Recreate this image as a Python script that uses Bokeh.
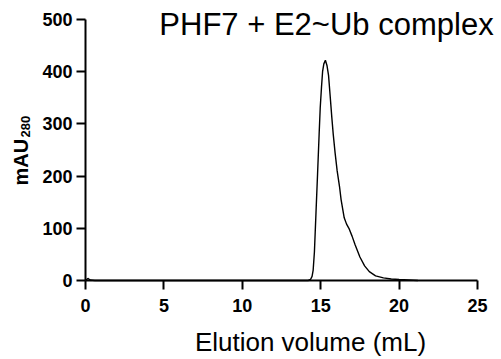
from bokeh.plotting import figure
from bokeh.models import Range1d, FixedTicker, Label
from bokeh.embed import file_html
from bokeh.resources import INLINE
import math

# Data
volume_ml = [0.0, 0.15, 0.3, 0.6, 14.2, 14.35, 14.45, 14.52, 14.6, 14.7, 14.8,
             14.9, 14.97, 15.05, 15.12, 15.2, 15.3, 15.4, 15.5, 15.6, 15.71,
             15.8, 15.92, 16.05, 16.2, 16.3, 16.5, 16.65, 16.8, 17.0, 17.2,
             17.5, 17.8, 18.1, 18.5, 19.0, 19.5, 20.0, 20.6, 21.2]
mau_280 = [0, 4, 1, 0, 0, 2, 8, 20, 55, 130, 204,
           280, 331, 370, 400, 415, 422, 412, 393, 355, 312,
           280, 244, 210, 180, 155, 120, 108, 100, 85, 68,
           45, 28, 17, 9, 5, 3, 2, 1, 0]
x_ticks = [0, 5, 10, 15, 20, 25]
y_ticks = [0, 100, 200, 300, 400, 500]

title_text = "PHF7 + E2~Ub complex"
x_label_text = "Elution volume (mL)"
y_label_main = "mAU"
y_label_sub = "280"

W, H = 501, 359
# pixel positions of the axes in the picture
AX_L, AX_R, AX_T, AX_B = 85, 477, 19, 280
X0, X1, Y0, Y1 = 0, 25, 0, 500
sx = (X1 - X0) / (AX_R - AX_L)
sy = (Y1 - Y0) / (AX_B - AX_T)

def px2x(px):
    return X0 + (px - AX_L) * sx

def py2y(py):
    return Y0 + (AX_B - py) * sy

p = figure(width=W, height=H, output_backend="svg", toolbar_location=None,
           x_range=Range1d(px2x(0), px2x(W)), y_range=Range1d(py2y(H), py2y(0)),
           min_border=0)
p.outline_line_color = None
p.grid.visible = False
p.background_fill_color = "white"
p.border_fill_color = "white"

for ax in (p.xaxis[0], p.yaxis[0]):
    ax.fixed_location = 0
    ax.axis_line_width = 2
    ax.axis_line_color = "black"
    ax.major_tick_line_width = 2
    ax.major_tick_line_color = "black"
    ax.major_tick_out = 9
    ax.major_tick_in = 0
    ax.minor_tick_out = 0
    ax.minor_tick_in = 0
    ax.major_label_text_font = "Liberation Sans"
    ax.major_label_text_font_style = "bold"
    ax.major_label_text_font_size = "18px"
    ax.major_label_text_color = "black"

p.xaxis[0].ticker = FixedTicker(ticks=x_ticks)
p.yaxis[0].ticker = FixedTicker(ticks=y_ticks)
p.xaxis[0].bounds = (X0, X1)
p.yaxis[0].bounds = (Y0, Y1)
p.xaxis[0].major_label_standoff = 9
p.yaxis[0].major_label_standoff = 4

p.line(volume_ml, mau_280, line_color="black", line_width=1.4)

p.add_layout(Label(x=px2x(326), y=py2y(23.5), text=title_text,
                   text_font="Liberation Sans", text_font_size="31px",
                   text_align="center", text_baseline="middle",
                   text_color="black"))
p.add_layout(Label(x=px2x(310), y=py2y(341), text=x_label_text,
                   text_font="Liberation Sans", text_font_size="26px",
                   text_align="center", text_baseline="middle",
                   text_color="black"))
p.add_layout(Label(x=px2x(20), y=py2y(185), text=y_label_main, angle=math.pi / 2,
                   text_font="Liberation Sans", text_font_size="20px",
                   text_font_style="bold",
                   text_align="left", text_baseline="middle",
                   text_color="black"))
p.add_layout(Label(x=px2x(24.5), y=py2y(137), text=y_label_sub, angle=math.pi / 2,
                   text_font="Liberation Sans", text_font_size="13px",
                   text_font_style="bold",
                   text_align="left", text_baseline="middle",
                   text_color="black"))

open("out.html", "w").write(file_html(p, INLINE))
